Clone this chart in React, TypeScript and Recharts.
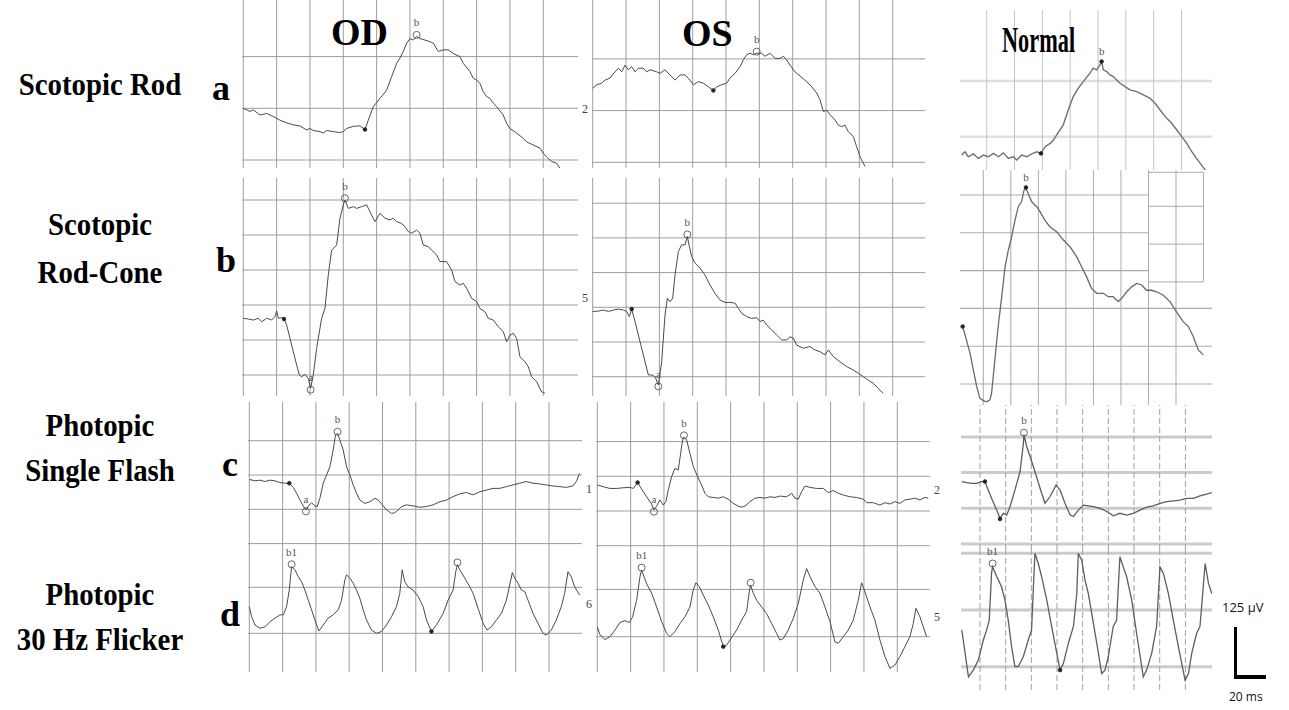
import React from "react";
import { LineChart, Line, XAxis, YAxis, ReferenceLine, ReferenceDot } from "recharts";

type Pair = [number, number];
type Mark = { t: number; v: number; kind: "ring" | "dot"; text?: string };
type Side = { v: number; text: string };

// traces in grid divisions (x: time div, y: amplitude div)
const rodOD: Pair[] = [
  [0, 1.0], [0.2, 0.94], [0.3, 0.97], [0.5, 0.87], [0.7, 0.9], [0.9, 0.84], [1.1, 0.77], [1.3, 0.72],
  [1.5, 0.68], [1.7, 0.66], [1.9, 0.58], [2.0, 0.61], [2.1, 0.57], [2.3, 0.55], [2.4, 0.52], [2.5, 0.57],
  [2.7, 0.55], [2.9, 0.53], [3.0, 0.55], [3.1, 0.61], [3.3, 0.65], [3.5, 0.66], [3.65, 0.59], [3.75, 0.77],
  [3.9, 1.03], [4.1, 1.19], [4.3, 1.35], [4.45, 1.61], [4.6, 1.87], [4.7, 1.97], [4.8, 2.1], [4.9, 2.26],
  [5.0, 2.35], [5.1, 2.32], [5.2, 2.39], [5.3, 2.35], [5.45, 2.32], [5.6, 2.29], [5.7, 2.26], [5.85, 2.1],
  [6.0, 2.13], [6.15, 2.13], [6.3, 2.06], [6.5, 2.0], [6.6, 1.87], [6.8, 1.71], [6.9, 1.58], [7.0, 1.55],
  [7.1, 1.48], [7.2, 1.32], [7.3, 1.23], [7.4, 1.19], [7.5, 1.1], [7.6, 1.03], [7.8, 0.87], [7.9, 0.71],
  [8.0, 0.61], [8.2, 0.52], [8.4, 0.42], [8.5, 0.35], [8.7, 0.29], [8.9, 0.23], [9.0, 0.13], [9.1, 0.06],
  [9.25, -0.03], [9.4, -0.06], [9.5, -0.16],
];
const rodOS: Pair[] = [
  [0, 1.43], [0.12, 1.5], [0.27, 1.53], [0.37, 1.59], [0.52, 1.63], [0.67, 1.75], [0.77, 1.82], [0.87, 1.75],
  [0.97, 1.88], [1.07, 1.79], [1.17, 1.85], [1.27, 1.75], [1.37, 1.82], [1.52, 1.82], [1.62, 1.75], [1.72, 1.79],
  [1.92, 1.75], [2.02, 1.72], [2.17, 1.79], [2.32, 1.69], [2.47, 1.59], [2.62, 1.69], [2.77, 1.69], [2.92, 1.59],
  [3.02, 1.5], [3.17, 1.56], [3.32, 1.53], [3.47, 1.46], [3.62, 1.39], [3.72, 1.46], [3.87, 1.5], [4.02, 1.53],
  [4.12, 1.63], [4.27, 1.72], [4.42, 1.85], [4.52, 1.98], [4.62, 2.08], [4.72, 2.11], [4.82, 2.08], [4.92, 2.11],
  [5.07, 2.11], [5.17, 2.05], [5.32, 2.11], [5.47, 2.01], [5.62, 2.01], [5.72, 2.05], [5.82, 1.98], [5.92, 1.88],
  [6.07, 1.75], [6.22, 1.67], [6.42, 1.56], [6.57, 1.46], [6.72, 1.34], [6.82, 1.21], [6.92, 0.98], [7.02, 1.01],
  [7.12, 0.92], [7.27, 0.82], [7.37, 0.72], [7.47, 0.69], [7.57, 0.72], [7.67, 0.59], [7.82, 0.5], [7.92, 0.3],
  [8.02, 0.11], [8.12, -0.02], [8.17, -0.08],
];
const rodNormal: Pair[] = [
  [-0.9, -0.33], [-0.78, -0.27], [-0.66, -0.36], [-0.48, -0.31], [-0.3, -0.39], [-0.12, -0.33], [0.06, -0.36],
  [0.24, -0.3], [0.42, -0.36], [0.6, -0.29], [0.78, -0.39], [0.96, -0.36], [1.08, -0.42], [1.26, -0.33],
  [1.44, -0.36], [1.62, -0.31], [1.8, -0.27], [1.95, -0.3], [2.1, -0.18], [2.28, -0.12], [2.4, -0.06],
  [2.51, 0.03], [2.75, 0.21], [2.93, 0.48], [3.11, 0.72], [3.29, 0.87], [3.47, 0.99], [3.71, 1.14], [3.83, 1.23],
  [3.95, 1.2], [4.07, 1.29], [4.13, 1.35], [4.19, 1.2], [4.31, 1.17], [4.43, 1.11], [4.55, 1.08], [4.67, 1.02],
  [4.79, 0.96], [4.97, 0.9], [5.15, 0.84], [5.39, 0.81], [5.63, 0.75], [5.87, 0.69], [6.05, 0.6], [6.23, 0.48],
  [6.47, 0.33], [6.65, 0.24], [6.83, 0.12], [7.01, 0.0], [7.19, -0.12], [7.37, -0.27], [7.54, -0.39],
  [7.72, -0.51], [7.9, -0.63], [8.02, -0.72],
];
const rodConeOD: Pair[] = [
  [0, 1.62], [0.15, 1.6], [0.3, 1.57], [0.45, 1.62], [0.55, 1.52], [0.7, 1.62], [0.85, 1.57], [0.95, 1.67],
  [1.0, 1.83], [1.05, 1.62], [1.15, 1.64], [1.22, 1.6], [1.3, 1.43], [1.4, 1.05], [1.5, 0.67], [1.6, 0.29],
  [1.68, 0.0], [1.75, -0.05], [1.85, 0.02], [1.95, -0.1], [2.02, -0.38], [2.1, 0.0], [2.2, 0.76], [2.35, 1.62],
  [2.45, 1.9], [2.55, 2.86], [2.65, 3.57], [2.8, 3.71], [2.9, 4.48], [3.0, 4.86], [3.05, 5.0], [3.15, 4.76],
  [3.3, 4.81], [3.4, 4.76], [3.55, 4.81], [3.7, 4.86], [3.85, 4.57], [3.95, 4.38], [4.1, 4.62], [4.25, 4.48],
  [4.4, 4.43], [4.5, 4.48], [4.6, 4.38], [4.75, 4.33], [4.85, 4.24], [4.95, 4.1], [5.05, 4.05], [5.2, 4.14],
  [5.3, 4.05], [5.4, 3.71], [5.55, 3.67], [5.65, 3.57], [5.8, 3.43], [5.9, 3.24], [6.1, 3.24], [6.25, 3.0],
  [6.35, 2.67], [6.5, 2.57], [6.6, 2.62], [6.7, 2.48], [6.85, 2.19], [7.0, 2.1], [7.1, 1.9], [7.25, 1.81],
  [7.35, 1.62], [7.5, 1.57], [7.65, 1.38], [7.8, 1.24], [7.9, 0.95], [8.0, 1.14], [8.1, 1.19], [8.2, 1.05],
  [8.3, 0.52], [8.45, 0.38], [8.55, 0.24], [8.65, -0.05], [8.8, -0.19], [8.95, -0.48], [9.05, -0.52],
];
const rodConeOS: Pair[] = [
  [0, 1.88], [0.17, 1.89], [0.32, 1.92], [0.47, 1.88], [0.62, 1.92], [0.77, 1.95], [0.92, 1.92], [1.02, 1.88],
  [1.1, 1.73], [1.17, 1.95], [1.27, 1.59], [1.42, 1.01], [1.57, 0.43], [1.67, 0.05], [1.77, 0.05], [1.87, 0.0],
  [1.97, -0.24], [2.07, 0.43], [2.17, 1.78], [2.24, 2.26], [2.32, 2.16], [2.4, 2.26], [2.47, 2.93], [2.57, 3.61],
  [2.67, 3.8], [2.77, 3.8], [2.84, 4.04], [2.9, 3.75], [2.97, 3.46], [3.07, 3.27], [3.22, 3.13], [3.37, 2.93],
  [3.52, 2.64], [3.67, 2.4], [3.82, 2.21], [3.97, 2.14], [4.12, 2.14], [4.27, 2.12], [4.37, 1.97], [4.47, 1.83],
  [4.62, 1.73], [4.77, 1.68], [4.92, 1.7], [5.02, 1.59], [5.12, 1.63], [5.22, 1.49], [5.37, 1.35], [5.52, 1.2],
  [5.67, 1.06], [5.82, 1.06], [5.92, 1.15], [6.02, 1.11], [6.12, 0.91], [6.32, 0.82], [6.52, 0.87], [6.67, 0.77],
  [6.82, 0.72], [6.97, 0.63], [7.07, 0.77], [7.22, 0.58], [7.42, 0.43], [7.62, 0.29], [7.82, 0.19], [7.97, 0.1],
  [8.12, 0.0], [8.27, -0.1], [8.42, -0.19], [8.57, -0.34], [8.72, -0.48],
];
const rodConeNormal: Pair[] = [
  [-0.75, 1.52], [-0.61, 1.16], [-0.48, 0.81], [-0.36, 0.37], [-0.24, -0.07], [-0.12, -0.38], [0.0, -0.44],
  [0.12, -0.47], [0.24, -0.42], [0.3, -0.25], [0.42, 0.63], [0.54, 1.52], [0.67, 2.31], [0.79, 3.1], [0.91, 3.54],
  [1.03, 3.89], [1.15, 4.33], [1.27, 4.69], [1.39, 4.82], [1.48, 5.13], [1.55, 5.17], [1.63, 5.04], [1.76, 4.82],
  [1.94, 4.69], [2.06, 4.56], [2.24, 4.33], [2.42, 4.16], [2.66, 4.03], [2.91, 3.81], [3.15, 3.63], [3.39, 3.37],
  [3.57, 3.1], [3.75, 2.84], [3.93, 2.53], [4.12, 2.4], [4.36, 2.4], [4.54, 2.31], [4.72, 2.31], [4.9, 2.18],
  [5.02, 2.26], [5.21, 2.44], [5.39, 2.57], [5.57, 2.66], [5.75, 2.62], [5.93, 2.48], [6.11, 2.48], [6.3, 2.44],
  [6.54, 2.35], [6.78, 2.18], [7.02, 1.91], [7.26, 1.65], [7.45, 1.52], [7.63, 1.25], [7.81, 0.9], [7.99, 0.77],
];
const flashOD: Pair[] = [
  [0, 0.87], [0.17, 0.83], [0.32, 0.85], [0.47, 0.81], [0.62, 0.85], [0.77, 0.83], [0.92, 0.78], [1.07, 0.76],
  [1.2, 0.76], [1.32, 0.64], [1.42, 0.47], [1.52, 0.27], [1.62, 0.1], [1.7, -0.02], [1.77, 0.1], [1.87, 0.19],
  [1.97, 0.1], [2.04, 0.08], [2.12, 0.32], [2.22, 0.76], [2.32, 1.0], [2.42, 1.24], [2.52, 1.73], [2.59, 2.17],
  [2.65, 2.21], [2.72, 2.02], [2.82, 1.73], [2.92, 1.24], [3.02, 1.0], [3.12, 0.71], [3.22, 0.47], [3.32, 0.27],
  [3.47, 0.17], [3.62, 0.22], [3.77, 0.32], [3.87, 0.27], [3.97, 0.16], [4.12, -0.02], [4.27, -0.12],
  [4.37, -0.1], [4.47, -0.02], [4.57, 0.08], [4.72, 0.13], [4.92, 0.1], [5.12, 0.06], [5.32, 0.08], [5.52, 0.13],
  [5.72, 0.22], [5.92, 0.27], [6.12, 0.37], [6.32, 0.45], [6.52, 0.49], [6.72, 0.42], [6.92, 0.51], [7.12, 0.56],
  [7.32, 0.61], [7.52, 0.61], [7.72, 0.66], [7.92, 0.71], [8.12, 0.76], [8.32, 0.81], [8.52, 0.76], [8.72, 0.74],
  [8.92, 0.71], [9.12, 0.68], [9.32, 0.66], [9.52, 0.64], [9.72, 0.68], [9.82, 0.81], [9.92, 1.05],
];
const flashOS: Pair[] = [
  [0, 0.75], [0.18, 0.7], [0.38, 0.65], [0.58, 0.65], [0.78, 0.67], [0.98, 0.68], [1.08, 0.65], [1.21, 0.82],
  [1.33, 0.63], [1.48, 0.41], [1.63, 0.2], [1.7, 0.03], [1.78, 0.14], [1.88, 0.32], [1.98, 0.17], [2.06, 0.27],
  [2.13, 0.61], [2.23, 0.99], [2.33, 1.23], [2.43, 1.18], [2.5, 1.66], [2.56, 2.05], [2.6, 2.13], [2.68, 2.05],
  [2.78, 1.66], [2.88, 1.28], [3.0, 1.01], [3.13, 0.75], [3.23, 0.51], [3.33, 0.41], [3.48, 0.39], [3.63, 0.37],
  [3.78, 0.41], [3.93, 0.34], [4.08, 0.22], [4.23, 0.14], [4.33, 0.11], [4.43, 0.14], [4.58, 0.27], [4.73, 0.37],
  [4.88, 0.39], [5.03, 0.37], [5.18, 0.41], [5.33, 0.39], [5.48, 0.43], [5.68, 0.41], [5.83, 0.51], [5.93, 0.37],
  [6.03, 0.34], [6.13, 0.56], [6.23, 0.72], [6.38, 0.68], [6.58, 0.65], [6.78, 0.65], [6.93, 0.53], [7.08, 0.59],
  [7.23, 0.51], [7.38, 0.46], [7.58, 0.41], [7.78, 0.39], [7.98, 0.34], [8.08, 0.24], [8.28, 0.24], [8.48, 0.17],
  [8.63, 0.24], [8.78, 0.2], [8.93, 0.27], [9.08, 0.22], [9.23, 0.32], [9.38, 0.34], [9.53, 0.37], [9.68, 0.32],
  [9.83, 0.39], [9.93, 0.37],
];
const flashNormal: Pair[] = [
  [-0.71, 0.75], [-0.52, 0.72], [-0.32, 0.7], [-0.13, 0.7], [0.06, 0.75], [0.19, 0.75], [0.32, 0.51], [0.45, 0.28],
  [0.65, -0.05], [0.78, -0.28], [0.91, -0.14], [1.04, -0.19], [1.17, 0.05], [1.36, 0.51], [1.56, 1.03],
  [1.69, 1.82], [1.71, 2.06], [1.82, 1.73], [1.95, 1.45], [2.14, 1.03], [2.34, 0.56], [2.53, 0.14], [2.73, 0.33],
  [2.96, 0.65], [3.12, 0.51], [3.31, 0.14], [3.51, -0.19], [3.64, -0.23], [3.83, -0.05], [4.03, 0.09],
  [4.22, 0.07], [4.42, 0.05], [4.68, 0.0], [4.94, -0.09], [5.19, -0.21], [5.45, -0.14], [5.71, -0.19],
  [5.97, -0.14], [6.23, -0.05], [6.49, 0.03], [6.75, 0.07], [7.01, 0.14], [7.27, 0.19], [7.53, 0.21],
  [7.79, 0.23], [8.05, 0.28], [8.31, 0.28], [8.57, 0.35], [8.83, 0.4], [9.03, 0.44],
];
const flickerOD: Pair[] = [
  [0, 0.58], [0.07, 0.36], [0.17, 0.18], [0.32, 0.11], [0.47, 0.14], [0.62, 0.25], [0.77, 0.33], [0.92, 0.4],
  [1.02, 0.4], [1.12, 0.58], [1.2, 0.94], [1.27, 1.45], [1.37, 1.38], [1.47, 1.23], [1.57, 1.12], [1.67, 0.94],
  [1.77, 0.72], [1.87, 0.51], [1.97, 0.29], [2.09, 0.05], [2.22, 0.18], [2.37, 0.33], [2.52, 0.4], [2.67, 0.51],
  [2.77, 0.72], [2.87, 1.16], [2.92, 1.27], [3.02, 1.2], [3.12, 1.09], [3.22, 0.94], [3.32, 0.76], [3.42, 0.51],
  [3.52, 0.29], [3.67, 0.07], [3.82, 0.0], [3.97, 0.04], [4.12, 0.18], [4.27, 0.36], [4.42, 0.58], [4.52, 0.87],
  [4.59, 1.38], [4.67, 1.12], [4.77, 1.01], [4.92, 0.94], [5.07, 0.8], [5.22, 0.58], [5.32, 0.29], [5.47, 0.04],
  [5.62, 0.18], [5.82, 0.43], [5.97, 0.72], [6.12, 0.94], [6.2, 1.34], [6.25, 1.49], [6.32, 1.38], [6.47, 1.2],
  [6.62, 1.01], [6.72, 0.87], [6.87, 0.54], [7.02, 0.22], [7.14, 0.07], [7.27, 0.14], [7.42, 0.29], [7.57, 0.43],
  [7.72, 0.72], [7.82, 1.05], [7.9, 1.32], [7.97, 1.2], [8.07, 1.09], [8.17, 0.94], [8.27, 0.91], [8.37, 0.72],
  [8.52, 0.43], [8.67, 0.22], [8.82, 0.0], [8.92, -0.04], [9.07, 0.07], [9.22, 0.29], [9.37, 0.58], [9.47, 0.87],
  [9.57, 1.34], [9.67, 1.23], [9.77, 1.01], [9.92, 0.83],
];
const flickerOS: Pair[] = [
  [0, 0.21], [0.08, 0.04], [0.23, -0.06], [0.38, 0.0], [0.53, 0.14], [0.68, 0.3], [0.83, 0.34], [0.96, 0.3],
  [1.06, 0.42], [1.18, 0.77], [1.28, 1.27], [1.33, 1.41], [1.4, 1.27], [1.5, 1.09], [1.63, 0.92], [1.78, 0.63],
  [1.93, 0.32], [2.08, 0.07], [2.18, 0.0], [2.33, 0.11], [2.48, 0.28], [2.63, 0.42], [2.78, 0.63], [2.88, 0.99],
  [2.96, 1.14], [3.06, 1.06], [3.18, 0.88], [3.33, 0.67], [3.48, 0.42], [3.63, 0.14], [3.78, -0.21], [3.88, -0.18],
  [3.98, -0.07], [4.18, 0.14], [4.33, 0.35], [4.48, 0.53], [4.56, 0.95], [4.6, 1.09], [4.68, 0.92], [4.78, 0.77],
  [4.93, 0.63], [5.08, 0.49], [5.23, 0.28], [5.38, 0.07], [5.48, -0.07], [5.58, -0.04], [5.73, 0.14], [5.88, 0.39],
  [6.03, 0.7], [6.18, 1.2], [6.28, 1.44], [6.38, 1.27], [6.53, 1.06], [6.68, 0.92], [6.83, 0.63], [6.98, 0.32],
  [7.13, -0.11], [7.23, -0.14], [7.38, 0.0], [7.53, 0.14], [7.68, 0.35], [7.83, 0.77], [7.93, 1.14], [8.03, 0.95],
  [8.18, 0.63], [8.33, 0.35], [8.48, -0.07], [8.63, -0.42], [8.78, -0.67], [8.93, -0.6], [9.08, -0.42],
  [9.23, -0.21], [9.38, 0.0], [9.48, 0.28], [9.56, 0.6], [9.68, 0.42], [9.78, 0.21], [9.88, 0.0],
];
const flickerNormal: Pair[] = [
  [-0.71, 0.65], [-0.58, 0.24], [-0.45, -0.18], [-0.26, -0.06], [-0.06, 0.12], [0.13, 0.47], [0.26, 0.65],
  [0.36, 0.82], [0.45, 1.65], [0.49, 1.76], [0.65, 1.59], [0.84, 1.41], [0.97, 1.18], [1.1, 0.82], [1.23, 0.35],
  [1.36, 0.0], [1.49, 0.0], [1.69, 0.18], [1.88, 0.47], [2.01, 0.65], [2.08, 1.41], [2.14, 2.0], [2.27, 1.82],
  [2.4, 1.59], [2.6, 1.18], [2.79, 0.71], [2.99, 0.24], [3.12, -0.06], [3.25, 0.06], [3.44, 0.41], [3.64, 0.71],
  [3.77, 1.29], [3.83, 2.0], [3.96, 1.88], [4.09, 1.53], [4.22, 1.29], [4.42, 0.76], [4.55, 0.41], [4.74, -0.12],
  [4.87, -0.06], [5.0, 0.18], [5.19, 0.71], [5.32, 0.82], [5.45, 1.94], [5.58, 1.76], [5.71, 1.59], [5.91, 1.18],
  [6.1, 0.59], [6.3, 0.0], [6.36, -0.18], [6.49, -0.06], [6.69, 0.24], [6.88, 0.71], [7.01, 1.76], [7.14, 1.65],
  [7.34, 1.29], [7.53, 0.82], [7.73, 0.35], [7.99, -0.24], [8.12, -0.12], [8.25, 0.24], [8.44, 0.59],
  [8.57, 0.71], [8.77, 1.82], [8.9, 1.47], [9.03, 1.29],
];

// peak rings and trigger dots
const rodODMarks: Mark[] = [{ t: 5.2, v: 2.42, kind: "ring", text: "b" }, { t: 3.65, v: 0.59, kind: "dot" }];
const rodOSMarks: Mark[] = [{ t: 4.92, v: 2.14, kind: "ring", text: "b" }, { t: 3.62, v: 1.39, kind: "dot" }];
const rodNormalMarks: Mark[] = [{ t: 4.13, v: 1.35, kind: "dot", text: "b" }, { t: 1.95, v: -0.3, kind: "dot" }];
const rodConeODMarks: Mark[] = [
  { t: 3.05, v: 5.05, kind: "ring", text: "b" }, { t: 2.02, v: -0.42, kind: "ring", text: "a" }, { t: 1.22, v: 1.6, kind: "dot" },
];
const rodConeOSMarks: Mark[] = [
  { t: 2.84, v: 4.1, kind: "ring", text: "b" }, { t: 1.97, v: -0.28, kind: "ring", text: "a" }, { t: 1.17, v: 1.95, kind: "dot" },
];
const rodConeNormalMarks: Mark[] = [{ t: 1.55, v: 5.2, kind: "dot", text: "b" }, { t: -0.75, v: 1.52, kind: "dot" }];
const flashODMarks: Mark[] = [
  { t: 2.65, v: 2.26, kind: "ring", text: "b" }, { t: 1.7, v: -0.06, kind: "ring", text: "a" }, { t: 1.2, v: 0.76, kind: "dot" },
];
const flashOSMarks: Mark[] = [
  { t: 2.6, v: 2.18, kind: "ring", text: "b" }, { t: 1.7, v: -0.02, kind: "ring", text: "a" }, { t: 1.21, v: 0.82, kind: "dot" },
];
const flashNormalMarks: Mark[] = [
  { t: 1.71, v: 2.12, kind: "ring", text: "b" }, { t: 0.78, v: -0.3, kind: "dot" }, { t: 0.19, v: 0.75, kind: "dot" },
];
const flickerODMarks: Mark[] = [
  { t: 1.27, v: 1.5, kind: "ring", text: "b1" }, { t: 6.25, v: 1.54, kind: "ring" }, { t: 5.47, v: 0.04, kind: "dot" },
];
const flickerOSMarks: Mark[] = [
  { t: 1.33, v: 1.46, kind: "ring", text: "b1" }, { t: 4.6, v: 1.14, kind: "ring" }, { t: 3.78, v: -0.21, kind: "dot" },
];
const flickerNormalMarks: Mark[] = [
  { t: 0.49, v: 1.82, kind: "ring", text: "b1" }, { t: 3.83, v: 2.06, kind: "ring" }, { t: 3.12, v: -0.06, kind: "dot" },
];

const rowLabels = [
  { lines: ["Scotopic Rod"], letter: "a" },
  { lines: ["Scotopic", "Rod-Cone"], letter: "b" },
  { lines: ["Photopic", "Single Flash"], letter: "c" },
  { lines: ["Photopic", "30 Hz Flicker"], letter: "d" },
];
const columnLabels = ["OD", "OS", "Normal"];

type Look = {
  grid: string; hWidth: number; vDash?: string; trace: string; traceWidth: number;
};
const paper: Look = { grid: "#9d9d9d", hWidth: 1, trace: "#4a4a4a", traceWidth: 1 };
const normalA: Look = { grid: "#c4c4c4", hWidth: 2.5, trace: "#707070", traceWidth: 1.4 };
const normalB: Look = { grid: "#ababab", hWidth: 1.1, trace: "#6a6a6a", traceWidth: 1.3 };
const normalCD: Look = { grid: "#a0a0a0", hWidth: 3, vDash: "6 3", trace: "#5e5e5e", traceWidth: 1.3 };

type Panel = {
  left: number; top: number; right: number; bottom: number;
  x0: number; dx: number; y0: number; dy: number;
  vGrid: number[]; hGrid: number[];
  data: Pair[]; marks: Mark[]; side?: Side[]; look: Look;
  hStop?: { v: number; to: number }[];
  inset?: { u0: number; u1: number; vs: number[]; top: number };
};

const cols10 = [0, 1, 2, 3, 4, 5, 6, 7, 8, 9];

const panels: Panel[] = [
  { left: 242, top: 0, right: 578, bottom: 168, x0: 243.3, dx: 33.33, y0: 160, dy: 51.7, vGrid: cols10, hGrid: [0, 1, 2],
    data: rodOD, marks: rodODMarks, side: [{ v: 1, text: "2" }], look: paper },
  { left: 592, top: 0, right: 925, bottom: 168, x0: 592.7, dx: 33.33, y0: 162.3, dy: 51.7, vGrid: cols10, hGrid: [0, 1, 2],
    data: rodOS, marks: rodOSMarks, look: paper },
  { left: 960, top: 10, right: 1212, bottom: 170, x0: 986.7, dx: 27.83, y0: 136.7, dy: 55.7, vGrid: [0, 1, 2, 3, 4, 5, 6, 7],
    hGrid: [0, 1], data: rodNormal, marks: rodNormalMarks, look: normalA },
  { left: 242, top: 178, right: 578, bottom: 396, x0: 243.3, dx: 33.33, y0: 375, dy: 35, vGrid: cols10, hGrid: [0, 1, 2, 3, 4, 5],
    data: rodConeOD, marks: rodConeODMarks, side: [{ v: 2.2, text: "5" }], look: paper },
  { left: 592, top: 178, right: 925, bottom: 396, x0: 592.7, dx: 33.33, y0: 376.7, dy: 34.7, vGrid: cols10, hGrid: [0, 1, 2, 3, 4, 5],
    data: rodConeOS, marks: rodConeOSMarks, look: paper },
  { left: 960, top: 170, right: 1212, bottom: 405, x0: 983.3, dx: 27.53, y0: 384, dy: 37.8, vGrid: [0, 1, 2, 3, 4, 5, 6, 7],
    hGrid: [0, 1, 2], hStop: [{ v: 3, to: 6 }, { v: 4, to: 6 }, { v: 5, to: 6 }],
    inset: { u0: 6, u1: 8, vs: [2.7, 3.7, 4.7], top: 5.6 },
    data: rodConeNormal, marks: rodConeNormalMarks, look: normalB },
  { left: 248, top: 402, right: 582, bottom: 560, x0: 249.3, dx: 33.3, y0: 509.3, dy: 34.3, vGrid: cols10, hGrid: [-1, 0, 1, 2],
    data: flashOD, marks: flashODMarks, side: [{ v: 0.6, text: "1" }], look: paper },
  { left: 248, top: 560, right: 582, bottom: 672, x0: 249.3, dx: 33.3, y0: 633.3, dy: 46, vGrid: cols10, hGrid: [0, 1],
    data: flickerOD, marks: flickerODMarks, side: [{ v: 0.64, text: "6" }], look: paper },
  { left: 596, top: 402, right: 930, bottom: 560, x0: 597.3, dx: 33.33, y0: 511, dy: 34.7, vGrid: cols10, hGrid: [-1, 0, 1, 2],
    data: flashOS, marks: flashOSMarks, side: [{ v: 0.6, text: "2" }], look: paper },
  { left: 596, top: 560, right: 930, bottom: 672, x0: 597.3, dx: 33.33, y0: 636.7, dy: 47.3, vGrid: cols10, hGrid: [0, 1],
    data: flickerOS, marks: flickerOSMarks, side: [{ v: 0.42, text: "5" }], look: paper },
  { left: 961, top: 405, right: 1212, bottom: 550, x0: 980, dx: 25.67, y0: 508.3, dy: 35.7, vGrid: [0, 1, 2, 3, 4, 5, 6, 7, 8],
    hGrid: [-1, 0, 1, 2], data: flashNormal, marks: flashNormalMarks, look: normalCD },
  { left: 961, top: 550, right: 1212, bottom: 690, x0: 980, dx: 25.67, y0: 666.7, dy: 56.7, vGrid: [0, 1, 2, 3, 4, 5, 6, 7, 8],
    hGrid: [0, 1, 2], data: flickerNormal, marks: flickerNormalMarks, look: normalCD },
];

const serif = '"Liberation Serif", "Times New Roman", serif';

function Trace({ p }: { p: Panel }) {
  const w = p.right - p.left;
  const h = p.bottom - p.top;
  const pad = p.side ? 16 : 0;
  const xDom: [number, number] = [(p.left - p.x0) / p.dx, (p.right - p.x0) / p.dx];
  const yDom: [number, number] = [(p.y0 - p.bottom) / p.dy, (p.y0 - p.top) / p.dy];
  const rows = p.data.map(([t, v]) => ({ t, v }));
  const lk = p.look;
  return (
    <div className="ergp" style={{ position: "absolute", left: p.left, top: p.top }}>
      <LineChart width={w + pad} height={h} data={rows} margin={{ top: 0, right: pad, bottom: 0, left: 0 }}>
        <XAxis dataKey="t" type="number" domain={xDom} hide allowDataOverflow />
        <YAxis type="number" domain={yDom} hide allowDataOverflow />
        {p.vGrid.map((u) => (
          <ReferenceLine key={"v" + u} x={u} stroke={lk.grid} strokeWidth={1} strokeDasharray={lk.vDash} />
        ))}
        {p.hGrid.map((v) => (
          <ReferenceLine key={"h" + v} y={v} stroke={lk.grid} strokeWidth={lk.hWidth} strokeOpacity={lk.hWidth > 2 ? 0.55 : 1} />
        ))}
        {(p.hStop || []).map((s) => (
          <ReferenceLine key={"s" + s.v} stroke={lk.grid} strokeWidth={lk.hWidth}
            segment={[{ x: xDom[0], y: s.v }, { x: s.to, y: s.v }]} />
        ))}
        {p.inset && [...p.inset.vs, p.inset.top].map((v) => (
          <ReferenceLine key={"i" + v} stroke={lk.grid} strokeWidth={1}
            segment={[{ x: p.inset!.u0, y: v }, { x: p.inset!.u1, y: v }]} />
        ))}
        {p.inset && (
          <ReferenceLine stroke={lk.grid} strokeWidth={1}
            segment={[{ x: p.inset.u1, y: p.inset.vs[0] }, { x: p.inset.u1, y: p.inset.top }]} />
        )}
        {(p.side || []).map((s) => (
          <ReferenceDot key={"l" + s.text} x={xDom[1]} y={s.v} r={0} fill="none" stroke="none"
            label={{ value: s.text, position: "right", offset: 4, fontSize: 12, fill: "#444", fontFamily: serif }} />
        ))}
        <Line type="linear" dataKey="v" stroke={lk.trace} strokeWidth={lk.traceWidth} dot={false} isAnimationActive={false} />
        {p.marks.map((m, i) => (
          <ReferenceDot key={"m" + i} x={m.t} y={m.v} r={m.kind === "ring" ? 3.5 : 1.8}
            fill={m.kind === "ring" ? "none" : "#222"} stroke={m.kind === "ring" ? "#555" : "#222"} strokeWidth={0.9}
            label={m.text ? { value: m.text, position: "top", offset: 5, fontSize: 11, fill: "#555", fontFamily: serif } : undefined} />
        ))}
      </LineChart>
    </div>
  );
}

const labelTops = [
  { lines: [95], letter: { x: 212, base: 100 } },
  { lines: [235, 283], letter: { x: 216, base: 272 } },
  { lines: [436, 481], letter: { x: 222, base: 476 } },
  { lines: [605, 650], letter: { x: 220, base: 626 } },
];

export default function App() {
  const rowFs = 32;
  return (
    <div style={{ position: "absolute", left: 0, top: 0, width: 1289, height: 710, background: "#fff", overflow: "hidden" }}>
      <style>{".ergp svg{overflow:visible}"}</style>
      {panels.map((p, i) => (
        <Trace key={i} p={p} />
      ))}

      {rowLabels.map((r, i) =>
        r.lines.map((line, j) => (
          <div key={"r" + i + j} style={{
            position: "absolute", left: 0, width: 200, textAlign: "center",
            top: labelTops[i].lines[j] - 0.84 * rowFs, fontFamily: serif, fontWeight: 700, fontSize: rowFs,
            lineHeight: `${rowFs}px`, transform: "scaleX(0.9)", whiteSpace: "nowrap", color: "#000",
          }}>{line}</div>
        )),
      )}
      {rowLabels.map((r, i) => (
        <div key={"L" + i} style={{
          position: "absolute", left: labelTops[i].letter.x, top: labelTops[i].letter.base - 0.84 * 36,
          fontFamily: serif, fontWeight: 700, fontSize: 36, lineHeight: "36px", color: "#000",
        }}>{r.letter}</div>
      ))}

      <div style={{ position: "absolute", left: 331, top: 45 - 0.84 * 38, fontFamily: serif, fontWeight: 700, fontSize: 38, lineHeight: "38px" }}>
        {columnLabels[0]}
      </div>
      <div style={{ position: "absolute", left: 682, top: 46 - 0.84 * 38, fontFamily: serif, fontWeight: 700, fontSize: 38, lineHeight: "38px" }}>
        {columnLabels[1]}
      </div>
      <div style={{
        position: "absolute", left: 1002, top: 52 - 0.84 * 36, fontFamily: serif, fontWeight: 700, fontSize: 36, lineHeight: "36px",
        transform: "scaleX(0.62)", transformOrigin: "left center", whiteSpace: "nowrap",
      }}>
        {columnLabels[2]}
      </div>

      {/* calibration bar */}
      <div style={{ position: "absolute", left: 1222, top: 598, fontFamily: '"Open Sans", sans-serif', fontSize: 13, color: "#111" }}>125 µV</div>
      <div style={{ position: "absolute", left: 1234, top: 627, width: 3, height: 52, background: "#000" }} />
      <div style={{ position: "absolute", left: 1234, top: 675, width: 32, height: 4, background: "#000" }} />
      <div style={{ position: "absolute", left: 1229, top: 688, fontFamily: '"Open Sans", sans-serif', fontSize: 12, color: "#111" }}>20 ms</div>
    </div>
  );
}
